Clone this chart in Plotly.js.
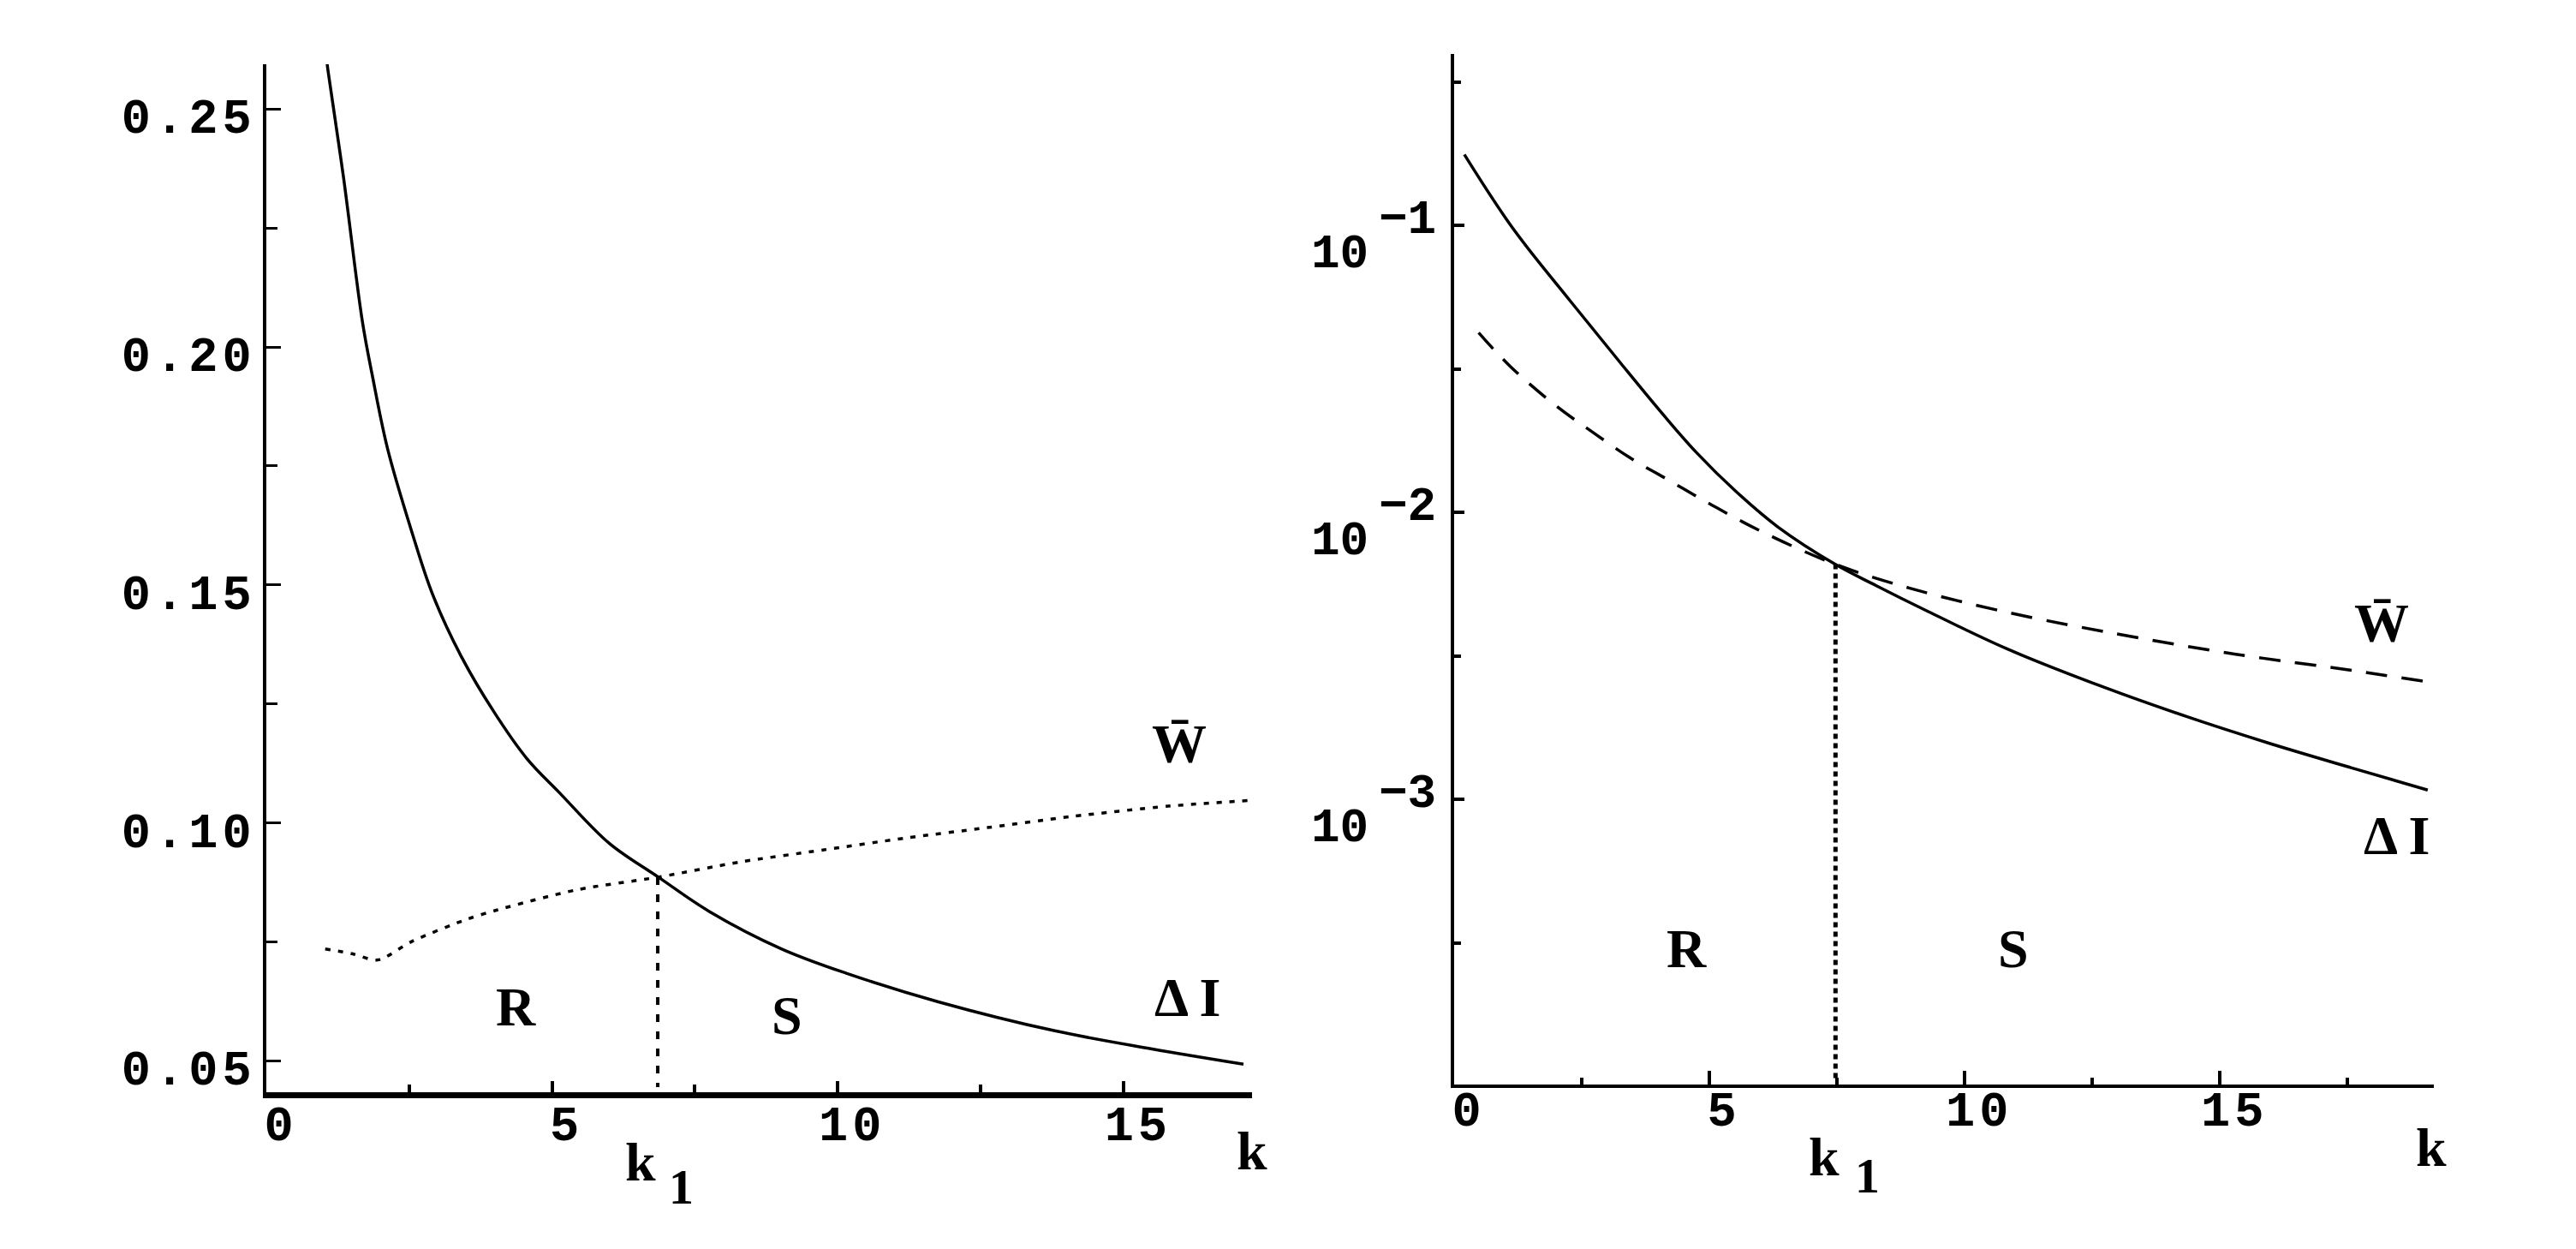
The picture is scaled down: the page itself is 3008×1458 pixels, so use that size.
<!DOCTYPE html>
<html>
<head>
<meta charset="utf-8">
<script src="https://cdn.plot.ly/plotly-3.0.1.min.js"></script>
<style>
html,body{margin:0;padding:0;background:#fff;}
.xtick text, .ytick text, .x2tick text { letter-spacing: 5px !important; }
</style>
</head>
<body>
<div id="chart" style="width:3008px;height:1458px;"></div>
<script>
// ---------- Left panel (linear) ----------
const kLeftDeltaI = [1.0, 1.08, 1.35, 1.68, 1.85, 2.12, 2.55, 2.91, 3.41, 3.99, 4.56, 5.14, 6.0, 6.86, 7.75, 9.02, 10.15, 11.76, 13.8, 15.5, 17.1];
const leftDeltaI  = [0.266, 0.258, 0.2357, 0.2054, 0.1943, 0.1787, 0.161, 0.148, 0.1350, 0.1232, 0.1135, 0.1062, 0.0957, 0.0886, 0.0814, 0.0735, 0.0684, 0.0624, 0.0563, 0.0525, 0.0493];
const kLeftW = [1.03, 1.5, 1.95, 2.55, 3.5, 4.04, 5.42, 6.86, 8.3, 9.74, 11.18, 12.62, 14.07, 15.78, 17.2];
const leftW  = [0.0735, 0.0725, 0.0712, 0.0751, 0.0797, 0.0817, 0.0859, 0.0886, 0.0918, 0.0943, 0.0968, 0.0990, 0.1013, 0.1035, 0.1047];
const leftK1 = 6.85;
const leftK1Y = [0.0886, 0.0445];
const leftXTicks = [0, 5, 10, 15];
const leftXMinor = [2.5, 7.5, 12.5];
const leftYTicks = [0.05, 0.10, 0.15, 0.20, 0.25];
const leftYTickText = ['0.05', '0.10', '0.15', '0.20', '0.25'];
const leftYMinor = [0.075, 0.125, 0.175, 0.225];

// ---------- Right panel (log) ----------
const kRightDeltaI = [0.2, 1.15, 2.27, 3.27, 4.09, 4.74, 5.54, 6.34, 7.46, 8.27, 9.23, 10.83, 12.76, 14.37, 15.97, 17.58, 19.07];
const rightDeltaI  = [0.1766, 0.0977, 0.0547, 0.0330, 0.02198, 0.01622, 0.01175, 0.00891, 0.00661, 0.00556, 0.00457, 0.00335, 0.00245, 0.00194, 0.00157, 0.00129, 0.00108];
const kRightW = [0.48, 1.09, 2.0, 2.65, 3.45, 4.25, 5.06, 6.02, 7.46, 8.91, 10.67, 12.76, 15.31, 17.58, 19.01];
const rightW  = [0.0423, 0.0324, 0.0235, 0.0194, 0.01549, 0.01282, 0.01059, 0.00859, 0.00661, 0.00546, 0.00456, 0.00384, 0.00321, 0.00282, 0.00258];
const rightK1 = 7.47;
const rightK1Y = [0.00661, 0.000105];
const rightXTicks = [0, 5, 10, 15];
const rightXMinor = [2.5, 7.5, 12.5, 17.5];
const rightYDecades = [0.1, 0.01, 0.001];
const rightYExponents = ['\u22121', '\u22122', '\u22123'];
const rightYHalf = [0.31623, 0.031623, 0.0031623, 0.00031623];

// ---------- helpers ----------
const W = 3008, H = 1458;
const px = x => x / W;
const py = y => 1 - y / H;
const monoFont = {family: 'Liberation Mono, Courier New, monospace', size: 56, color: '#000', weight: 'bold'};
const tickFont = {family: 'Liberation Mono, Courier New, monospace', size: 57, color: '#000', weight: 'bold'};
const serifFont = {family: 'Liberation Serif, Times New Roman, serif', size: 64, color: '#000', weight: 'bold'};

const traces = [
  {x: kLeftDeltaI, y: leftDeltaI, xaxis: 'x', yaxis: 'y', mode: 'lines',
   line: {color: '#000', width: 3.5, shape: 'spline', smoothing: 1}},
  {x: kLeftW, y: leftW, xaxis: 'x', yaxis: 'y', mode: 'lines',
   line: {color: '#000', width: 3.5, dash: '6px,9px', shape: 'spline', smoothing: 0.8}},
  {x: [leftK1, leftK1], y: leftK1Y, xaxis: 'x', yaxis: 'y', mode: 'lines',
   line: {color: '#000', width: 4, dash: '9px,11px'}},
  {x: kRightDeltaI, y: rightDeltaI, xaxis: 'x2', yaxis: 'y2', mode: 'lines',
   line: {color: '#000', width: 3.5, shape: 'spline', smoothing: 1}},
  {x: kRightW, y: rightW, xaxis: 'x2', yaxis: 'y2', mode: 'lines',
   line: {color: '#000', width: 3.5, dash: '25px,17px', shape: 'spline', smoothing: 1}},
  {x: [rightK1, rightK1], y: rightK1Y, xaxis: 'x2', yaxis: 'y2', mode: 'lines',
   line: {color: '#000', width: 5, dash: '6px,5px'}}
];

const annotations = [];
function addText(text, x, y, font) {
  annotations.push({text: text, x: px(x), y: py(y), xref: 'paper', yref: 'paper',
    xanchor: 'center', yanchor: 'middle', showarrow: false, font: font});
}
// Left labels
addText('W\u0304', 1377, 868, serifFont);
addText('\u0394 I', 1387, 1164, serifFont);
addText('R', 602, 1175, serifFont);
addText('S', 919, 1185, serifFont);
addText('k', 1462, 1343, serifFont);
addText('k', 748, 1356, serifFont);
addText('1', 795, 1385, Object.assign({}, serifFont, {size: 58}));
// Right labels
addText('W\u0304', 2781, 727, serifFont);
addText('\u0394 I', 2799, 975, serifFont);
addText('R', 1969, 1107, serifFont);
addText('S', 2351, 1107, serifFont);
addText('k', 2839, 1339, serifFont);
addText('k', 2130, 1350, serifFont);
addText('1', 2180, 1372, Object.assign({}, serifFont, {size: 58}));
// Right y tick labels (10 with exponent)
rightYDecades.forEach((v, i) => {
  annotations.push({text: '10', x: px(1600), y: Math.log10(v), xref: 'paper', yref: 'y2',
    xanchor: 'right', yanchor: 'middle', yshift: -34, showarrow: false, font: monoFont});
  annotations.push({text: rightYExponents[i], x: px(1679), y: Math.log10(v), xref: 'paper', yref: 'y2',
    xanchor: 'right', yanchor: 'middle', yshift: 6, showarrow: false, font: monoFont});
});

const axisCommon = {showgrid: false, zeroline: false, showline: true, linecolor: '#000',
  ticks: 'inside', tickcolor: '#000', tickfont: tickFont, fixedrange: true};

const layout = {
  width: W, height: H, autosize: false,
  margin: {l: 0, r: 0, t: 0, b: 0, pad: 0},
  paper_bgcolor: '#fff', plot_bgcolor: '#fff', showlegend: false,
  xaxis: Object.assign({}, axisCommon, {
    domain: [px(311), px(1462)], range: [0, 17.25], anchor: 'y',
    linewidth: 7, tickvals: leftXTicks, ticktext: leftXTicks.map(String),
    ticklen: 13, tickwidth: 4, ticklabelshift: 17, ticklabelstandoff: -19,
    minor: {tickvals: leftXMinor, ticks: 'inside', ticklen: 9, tickwidth: 4, tickcolor: '#000', showgrid: false}
  }),
  yaxis: Object.assign({}, axisCommon, {
    domain: [py(1275), py(75)], range: [0.0434, 0.2594], anchor: 'x',
    linewidth: 4, tickvals: leftYTicks, ticktext: leftYTickText,
    ticklen: 17, tickwidth: 3, ticklabelshift: 8, ticklabelstandoff: -3,
    minor: {tickvals: leftYMinor, ticks: 'inside', ticklen: 13, tickwidth: 3, tickcolor: '#000', showgrid: false}
  }),
  xaxis2: Object.assign({}, axisCommon, {
    domain: [px(1698), px(2842)], range: [0, 19.19], anchor: 'y2',
    linewidth: 4, tickvals: rightXTicks, ticktext: rightXTicks.map(String),
    ticklen: 16, tickwidth: 4, ticklabelshift: 17, ticklabelstandoff: -24,
    minor: {tickvals: rightXMinor, ticks: 'inside', ticklen: 8, tickwidth: 4, tickcolor: '#000', showgrid: false}
  }),
  yaxis2: Object.assign({}, axisCommon, {
    type: 'log', domain: [py(1266), py(63)], range: [-3.9925, -0.4027], anchor: 'x2',
    linewidth: 4, tickvals: rightYDecades, showticklabels: false,
    ticklen: 12, tickwidth: 4,
    minor: {tickvals: rightYHalf, ticks: 'inside', ticklen: 8, tickwidth: 4, tickcolor: '#000', showgrid: false}
  }),
  annotations: annotations
};

Plotly.newPlot('chart', traces, layout, {displayModeBar: false, staticPlot: true});
</script>
</body>
</html>
